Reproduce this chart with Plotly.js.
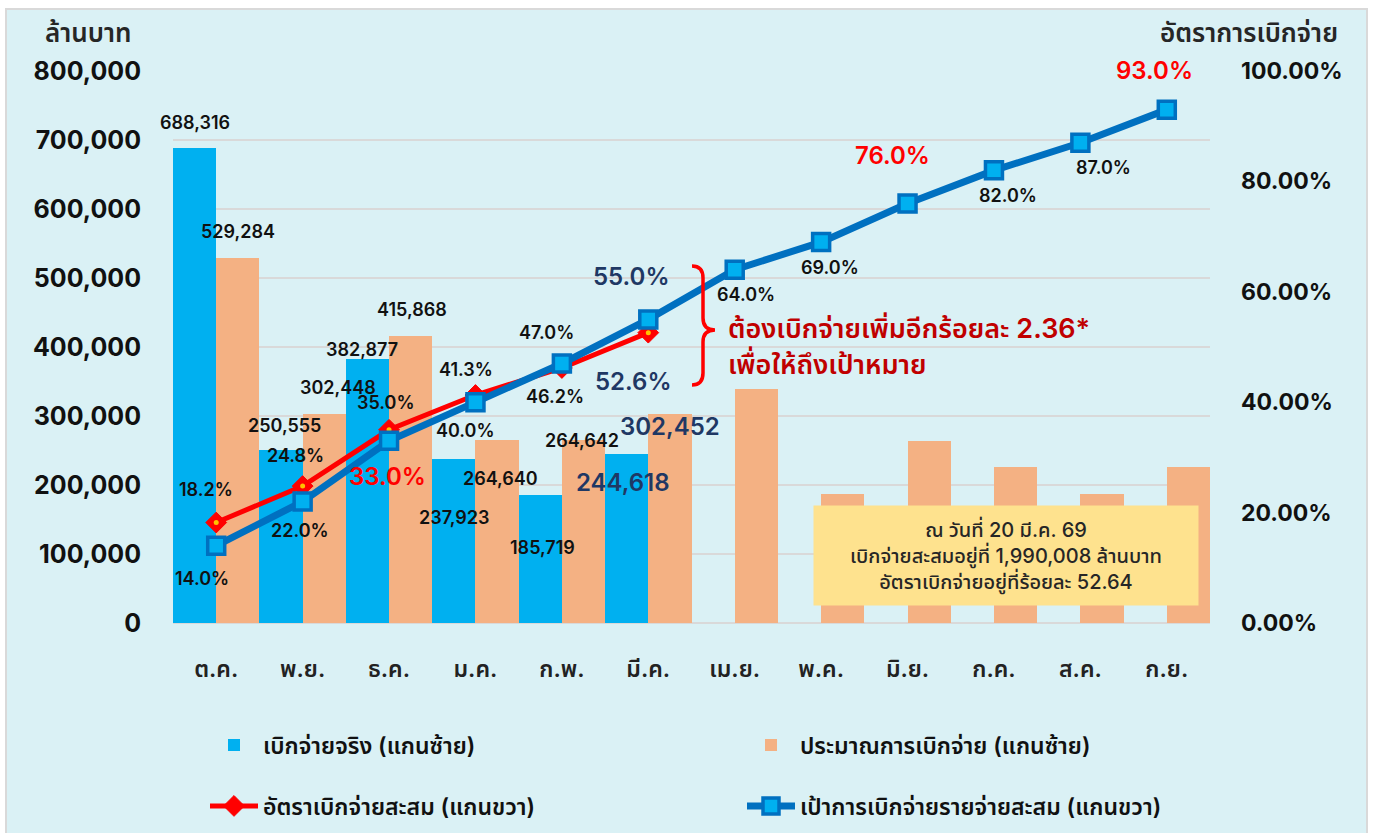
<!DOCTYPE html>
<html><head><meta charset="utf-8">
<script src="https://cdn.plot.ly/plotly-3.0.1.min.js"></script>
<style>html,body{margin:0;padding:0;background:#fff}#chart{width:1375px;height:833px}</style>
</head><body><div id="chart"></div>
<script>
// ---------- DATA ----------
const months = ['ต.ค.','พ.ย.','ธ.ค.','ม.ค.','ก.พ.','มี.ค.','เม.ย.','พ.ค.','มิ.ย.','ก.ค.','ส.ค.','ก.ย.'];
const actualSpend = [688316, 250555, 382877, 237923, 185719, 244618];
const budgetPlan = [529284, 302448, 415868, 264640, 264642, 302452, 339000, 187000, 264000, 226000, 187000, 226000];
const cumulativeRate = [18.2, 24.8, 35.0, 41.3, 46.2, 52.6];
const cumulativeTarget = [14.0, 22.0, 33.0, 40.0, 47.0, 55.0, 64.0, 69.0, 76.0, 82.0, 87.0, 93.0];
const seriesNames = ['เบิกจ่ายจริง (แกนซ้าย)', 'ประมาณการเบิกจ่าย (แกนซ้าย)', 'อัตราเบิกจ่ายสะสม (แกนขวา)', 'เป้าการเบิกจ่ายรายจ่ายสะสม (แกนขวา)'];
const leftTitle = 'ล้านบาท';
const rightTitle = 'อัตราการเบิกจ่าย';
const noteLines = ['ณ วันที่ 20 มี.ค. 69', 'เบิกจ่ายสะสมอยู่ที่ 1,990,008 ล้านบาท', 'อัตราเบิกจ่ายอยู่ที่ร้อยละ 52.64'];
const gapLines = ['ต้องเบิกจ่ายเพิ่มอีกร้อยละ 2.36*', 'เพื่อให้ถึงเป้าหมาย'];

// ---------- LAYOUT HELPERS ----------
const W = 1375, H = 833;
const PL = 173, PR = 1210, PT = 71, PB = 623;
const px = x => (x - PL) / (PR - PL);
const py = y => (PB - y) / (PB - PT);
const FONT = "Inter, 'Noto Sans Thai', 'Noto Sans', sans-serif";
const NAVY = '#1F3864', RED = '#FF0000', BLACK = '#111111';

// label placement offsets (pixels) & styles, kept apart from data
const actualLabelOff = [[-21,26],[-18,25],[-27,9],[-21,-59],[-19,-53],[-25,-28]];
const actualLabelStyle = [0,0,0,0,0,1];
const budgetLabelOff = [[22,26],[35,27],[23,27],[25,-38],[20,0],[22,-12]];
const budgetLabelStyle = [0,0,0,0,0,1];
const rateLabelOff = [[-10,33],[-7,31],[-3,27],[-9,26],[-7,-29],[-15,-49]];
const rateLabelStyle = [0,0,0,0,0,1];
const targetLabelOff = [[-14,-33],[-3,-29],[-2,-36],[-10,-28],[-15,31],[-17,43],[11,-25],[9,-25],[-15,48],[14,-25],[23,-25],[-12,39]];
const targetLabelStyle = [0,0,2,0,0,1,0,0,2,0,0,2];
const labelStyles = [
  {size:18, color:BLACK},
  {size:24, color:NAVY},
  {size:24, color:RED}
];

const fmtNum = v => v.toLocaleString('en-US');
const annotations = [];
function addLabel(x, y, yref, text, off, st) {
  const s = labelStyles[st];
  annotations.push({x:x, y:y, xref:'x', yref:yref, text:text, showarrow:false,
    xshift:off[0], yshift:off[1], xanchor:'center', yanchor:'middle',
    font:{family:FONT, size:s.size, color:s.color, weight:600}});
}
actualSpend.forEach((v,i)=> addLabel(months[i], v, 'y', fmtNum(v), actualLabelOff[i], actualLabelStyle[i]));
budgetPlan.slice(0,6).forEach((v,i)=> addLabel(months[i], v, 'y', fmtNum(v), budgetLabelOff[i], budgetLabelStyle[i]));
cumulativeRate.forEach((v,i)=> addLabel(months[i], v, 'y2', v.toFixed(1)+'%', rateLabelOff[i], rateLabelStyle[i]));
cumulativeTarget.forEach((v,i)=> addLabel(months[i], v, 'y2', v.toFixed(1)+'%', targetLabelOff[i], targetLabelStyle[i]));

// axis titles
annotations.push({xref:'paper', yref:'paper', x:px(88), y:py(33), text:leftTitle, showarrow:false,
  xanchor:'center', yanchor:'middle', font:{family:FONT, size:26, color:'#262626', weight:600}});
annotations.push({xref:'paper', yref:'paper', x:px(1249), y:py(33), text:rightTitle, showarrow:false,
  xanchor:'center', yanchor:'middle', font:{family:FONT, size:26, color:'#262626', weight:600}});
// gap note
annotations.push({xref:'paper', yref:'paper', x:px(726), y:py(328), text:gapLines[0], showarrow:false,
  xanchor:'left', yanchor:'middle', font:{family:FONT, size:27, color:'#C00000', weight:600}});
annotations.push({xref:'paper', yref:'paper', x:px(726), y:py(363), text:gapLines[1], showarrow:false,
  xanchor:'left', yanchor:'middle', font:{family:FONT, size:27, color:'#C00000', weight:600}});
// yellow note box
annotations.push({xref:'paper', yref:'paper', x:px(1006), y:py(555), text:noteLines.join('<br>'), showarrow:false,
  xanchor:'center', yanchor:'middle', width:382, height:97, bgcolor:'#FEE28E', align:'center',
  font:{family:FONT, size:20, color:'#262626', weight:500}});

// brace path (pixel -> paper)
const P = (x,y)=> px(x).toFixed(5)+','+py(y).toFixed(5);
const bracePath = 'M'+P(692,266)+' Q'+P(703,266)+' '+P(703,278)+' L'+P(703,318)+' Q'+P(703,330)+' '+P(715,330)+
  ' Q'+P(703,330)+' '+P(703,342)+' L'+P(703,373)+' Q'+P(703,385)+' '+P(692,385);

const shapes = [
  {type:'rect', xref:'paper', yref:'paper', x0:px(6), x1:px(1367), y0:py(845), y1:py(9),
   fillcolor:'#DAF1F5', line:{color:'#D9D9D9', width:2}, layer:'below'},
  {type:'path', xref:'paper', yref:'paper', path:bracePath, line:{color:RED, width:3.5}}
];

const traces = [
  {type:'bar', name:seriesNames[0], x:months.slice(0, actualSpend.length), y:actualSpend,
   marker:{color:'#00B0F0'}, legend:'legend', hoverinfo:'x+y'},
  {type:'bar', name:seriesNames[1], x:months, y:budgetPlan,
   marker:{color:'#F4B183'}, legend:'legend2', hoverinfo:'x+y'},
  {type:'scatter', mode:'lines+markers', name:seriesNames[2], x:months.slice(0, cumulativeRate.length), y:cumulativeRate, yaxis:'y2',
   line:{color:RED, width:5}, marker:{symbol:'diamond', size:16, color:RED, line:{color:RED, width:1}}, legend:'legend3'},
  {type:'scatter', mode:'markers', x:months.slice(0, cumulativeRate.length), y:cumulativeRate, yaxis:'y2',
   marker:{symbol:'circle', size:5, color:'#FFC000'}, showlegend:false, hoverinfo:'skip'},
  {type:'scatter', mode:'lines+markers', name:seriesNames[3], x:months, y:cumulativeTarget, yaxis:'y2',
   line:{color:'#0070C0', width:7}, marker:{symbol:'square', size:17, color:'#00B0F0', line:{color:'#0070C0', width:3.5}}, legend:'legend4'}
];

const legendBase = {bgcolor:'rgba(0,0,0,0)', borderwidth:0, xanchor:'left', yanchor:'middle',
  font:{family:FONT, size:23, color:BLACK, weight:600}, itemwidth:48};

const layout = {
  width:W, height:H,
  margin:{l:PL, r:W-PR, t:PT, b:H-PB, pad:0, autoexpand:false},
  paper_bgcolor:'#FFFFFF', plot_bgcolor:'rgba(0,0,0,0)',
  barmode:'group', bargap:0, bargroupgap:0,
  font:{family:FONT, color:BLACK},
  xaxis:{type:'category', range:[-0.5, months.length-0.5], showgrid:false, zeroline:false, showline:false, ticks:'',
    automargin:false, tickfont:{family:FONT, size:23, color:'#222', weight:600}, ticklabelstandoff:30},
  yaxis:{range:[0,800000], dtick:100000, tickformat:',d', showgrid:true, gridcolor:'#D9D9D9', gridwidth:2,
    zeroline:true, zerolinecolor:'#D9D9D9', zerolinewidth:2, showline:false, ticks:'', automargin:false,
    tickfont:{family:FONT, size:25, color:BLACK, weight:700}, ticklabelstandoff:31},
  yaxis2:{overlaying:'y', side:'right', range:[0,100], dtick:20, tickformat:'.2f', ticksuffix:'%',
    showgrid:false, zeroline:false, showline:false, ticks:'', automargin:false,
    tickfont:{family:FONT, size:23, color:BLACK, weight:700}, ticklabelstandoff:30},
  legend: Object.assign({}, legendBase, {x:px(205), y:py(745)}),
  legend2: Object.assign({}, legendBase, {x:px(742), y:py(745)}),
  legend3: Object.assign({}, legendBase, {x:px(205), y:py(806)}),
  legend4: Object.assign({}, legendBase, {x:px(742), y:py(806)}),
  annotations: annotations,
  shapes: shapes,
  showlegend:true
};

Plotly.newPlot('chart', traces, layout, {displayModeBar:false, responsive:false});
</script>
</body></html>
